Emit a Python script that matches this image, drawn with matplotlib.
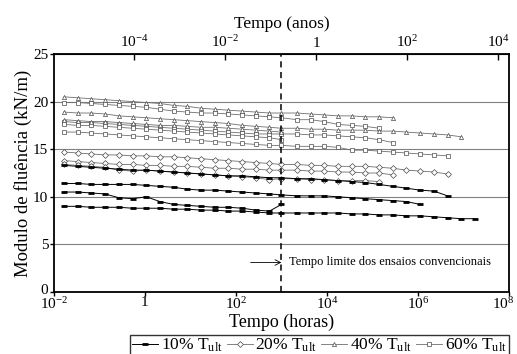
import matplotlib
matplotlib.use("Agg")
import matplotlib.pyplot as plt
from matplotlib.lines import Line2D
from matplotlib.ticker import FixedLocator, FixedFormatter
from matplotlib.transforms import ScaledTranslation

plt.rcParams['font.family'] = ['Liberation Serif', 'DejaVu Serif']
plt.rcParams['mathtext.fontset'] = 'custom'
plt.rcParams['mathtext.rm'] = 'Liberation Serif'
plt.rcParams['mathtext.it'] = 'Liberation Serif:italic'

# common time points (hours)
HOURS = [0.0167, 0.0333, 0.0667, 0.133, 0.267, 0.533, 1.07, 2.13, 4.27, 8.53,
         17.1, 34.1, 68.3, 137, 273, 546, 1000, 2185, 4369, 8738, 17476,
         34953, 69905, 139810, 279620, 559240, 1118481, 2236962, 4473924,
         8947849, 17895697]

# 10% T_ult
b0 = [13.3, 13.2, 13.1, 13.0, 12.9, 12.8, 12.8, 12.7, 12.6, 12.5, 12.4, 12.3, 12.2, 12.2, 12.1, 12.0,
      12.0, 11.9, 11.9, 11.8, 11.7, 11.6, 11.5, 11.3, 11.1, 10.9, 10.7, 10.6, 10.1]
b1 = [11.4, 11.4, 11.3, 11.3, 11.3, 11.3, 11.2, 11.1, 11.0, 10.8, 10.7, 10.7, 10.6, 10.5, 10.4, 10.3,
      10.2, 10.1, 10.1, 10.1, 10.0, 9.9, 9.8, 9.7, 9.6, 9.5, 9.2]
b2 = [10.5, 10.5, 10.4, 10.3, 9.9, 9.8, 10.0, 9.5, 9.2, 9.1, 9.0, 8.9, 8.9, 8.8, 8.6, 8.5, 9.2]
b3 = [9.0, 9.0, 8.9, 8.9, 8.9, 8.8, 8.8, 8.8, 8.7, 8.7, 8.6, 8.6, 8.5, 8.5, 8.4, 8.3,
      8.3, 8.3, 8.3, 8.3, 8.3, 8.2, 8.2, 8.1, 8.1, 8.0, 8.0, 7.9, 7.8, 7.7, 7.7]
# 20% T_ult
d1 = [14.7, 14.6, 14.5, 14.4, 14.4, 14.3, 14.3, 14.2, 14.2, 14.1, 14.0, 13.9, 13.8, 13.7, 13.6, 13.5,
      13.4, 13.4, 13.3, 13.3, 13.2, 13.2, 13.2, 13.1, 13.0, 12.8, 12.7, 12.6, 12.4]
d2 = [13.8, 13.7, 13.6, 13.5, 13.4, 13.4, 13.3, 13.3, 13.2, 13.2, 13.1, 13.0, 13.0, 12.9, 12.9, 12.8,
      12.8, 12.8, 12.7, 12.7, 12.6, 12.6, 12.5, 12.5, 12.3]
d3 = [13.4, 13.3, 13.2, 13.1, 12.8, 12.7, 12.8, 12.7, 12.6, 12.5, 12.4, 12.3, 12.2, 12.1, 12.0, 11.8,
      11.9, 11.9, 11.8, 11.8, 11.7, 11.7, 11.7, 11.6]
# 40% T_ult
t1 = [20.5, 20.4, 20.3, 20.2, 20.1, 20.0, 19.9, 19.8, 19.6, 19.5, 19.3, 19.2, 19.1, 19.0, 18.9, 18.8,
      18.8, 18.8, 18.7, 18.6, 18.5, 18.5, 18.4, 18.4, 18.3]
t2 = [18.9, 18.8, 18.8, 18.7, 18.5, 18.4, 18.3, 18.2, 18.1, 18.0, 17.9, 17.8, 17.7, 17.5, 17.4, 17.3,
      17.2, 17.2, 17.1, 17.1, 17.0, 17.0, 17.0, 16.9, 16.9, 16.8, 16.7, 16.6, 16.5, 16.3]
t3 = [18.1, 18.0, 17.9, 17.9, 17.8, 17.7, 17.6, 17.5, 17.5, 17.4, 17.3, 17.3, 17.2, 17.1, 17.0, 16.9, 16.8]
# 60% T_ult
s1 = [19.9, 19.9, 19.8, 19.7, 19.6, 19.5, 19.4, 19.2, 19.0, 18.9, 18.8, 18.8, 18.7, 18.6, 18.5, 18.4,
      18.3, 18.1, 18.1, 17.9, 17.6, 17.5, 17.4, 17.2]
s2 = [17.9, 17.8, 17.8, 17.7, 17.6, 17.5, 17.4, 17.3, 17.2, 17.1, 17.0, 16.9, 16.8, 16.7, 16.6, 16.6,
      16.6, 16.6, 16.5, 16.5, 16.4, 16.3, 16.2, 16.0, 15.7]
s3 = [16.8, 16.8, 16.7, 16.6, 16.5, 16.4, 16.3, 16.2, 16.1, 16.0, 15.9, 15.8, 15.7, 15.6, 15.5, 15.4,
      15.4, 15.3, 15.3, 15.3, 15.2, 14.9, 14.9, 14.8, 14.7, 14.6, 14.5, 14.4, 14.3]
s4 = [17.6, 17.5, 17.5, 17.4, 17.3, 17.2, 17.1, 17.0, 16.9, 16.8, 16.7, 16.6, 16.5, 16.4, 16.3, 16.2, 16.0]

labels = ['10% T$_{\\mathrm{ult}}$', '20% T$_{\\mathrm{ult}}$', '40% T$_{\\mathrm{ult}}$', '60% T$_{\\mathrm{ult}}$']
x_ticks = [1e-2, 1, 1e2, 1e4, 1e6, 1e8]
x_ticklabels = ['10$^{-2}$', '1', '10$^{2}$', '10$^{4}$', '10$^{6}$', '10$^{8}$']
top_ticks = [1e-4, 1e-2, 1, 1e2, 1e4]
top_ticklabels = ['10$^{-4}$', '10$^{-2}$', '1', '10$^{2}$', '10$^{4}$']
y_ticks = [0, 5, 10, 15, 20, 25]
limit_hours = 1000

fig = plt.figure(figsize=(5.17, 3.54), dpi=100)
ax = fig.add_axes([0.1044, 0.1751, 0.880, 0.6724])

gray = '#6e6e6e'
styles = {
    '10': dict(color='black', lw=0.7, marker='_', ms=4.5, mew=2.0, mec='black'),
    '20': dict(color=gray, lw=0.6, marker='D', ms=3.0, mfc='white', mec='#4a4a4a', mew=0.5),
    '40': dict(color=gray, lw=0.6, marker='^', ms=3.0, mfc='white', mec='#4a4a4a', mew=0.5),
    '60': dict(color=gray, lw=0.6, marker='s', ms=3.2, mfc='white', mec='#4a4a4a', mew=0.5),
}
groups = [('60', [s1, s2, s3, s4]), ('40', [t1, t2, t3]), ('20', [d1, d2, d3]), ('10', [b0, b1, b2, b3])]
for key, series in groups:
    for vals in series:
        ax.plot(HOURS[:len(vals)], vals, **styles[key], zorder=3)

ax.set_xscale('log')
ax.set_xlim(1e-2, 1e8)
ax.set_ylim(0, 25)
ax.xaxis.set_major_locator(FixedLocator(x_ticks))
ax.xaxis.set_major_formatter(FixedFormatter(x_ticklabels))
ax.xaxis.set_minor_locator(FixedLocator([]))
ax.set_yticks(y_ticks)
for v in [5, 10, 15, 20]:
    ax.axhline(v, color='#808080', lw=0.8, zorder=1)
for sp in ax.spines.values():
    sp.set_linewidth(1.3)
ax.tick_params(axis='both', direction='out', length=3, width=1, labelsize=11, pad=1)
ax.tick_params(axis='x', pad=0)
ax.set_xlabel('Tempo (horas)', fontsize=13, labelpad=1)
ax.set_ylabel('Modulo de fluência (kN/m)', fontsize=13.5, labelpad=1)

# nudge the last bottom tick label so it stays inside the picture
lab8 = ax.get_xticklabels()[-1]
lab8.set_transform(lab8.get_transform() + ScaledTranslation(-6 / 100, 0, fig.dpi_scale_trans))
# lift the "0" label a little so it clears the first x label
lab0 = ax.get_yticklabels()[0]
lab0.set_transform(lab0.get_transform() + ScaledTranslation(0, 3 / 100, fig.dpi_scale_trans))

ax.axvline(limit_hours, color='black', lw=1.1, ls=(0, (4, 3)), zorder=4)
ax.annotate('', xy=(limit_hours, 3.1), xytext=(210, 3.1),
            arrowprops=dict(arrowstyle='->', lw=0.6, color='black', shrinkA=0, shrinkB=0))
ax.text(1500, 3.1, 'Tempo limite dos ensaios convencionais', fontsize=9, va='center', ha='left')

YEAR = 5754.0
sec = ax.secondary_xaxis('top', functions=(lambda h: h / YEAR, lambda y: y * YEAR))
sec.xaxis.set_major_locator(FixedLocator(top_ticks))
sec.xaxis.set_major_formatter(FixedFormatter(top_ticklabels))
sec.xaxis.set_minor_locator(FixedLocator([]))
sec.tick_params(direction='in', length=4, width=1, labelsize=11, pad=3)
sec.set_xlabel('Tempo (anos)', fontsize=12.5, labelpad=4)

handles = [Line2D([], [], **styles[k]) for k in ['10', '20', '40', '60']]
leg = fig.legend(handles, labels, loc='lower right', bbox_to_anchor=(0.987, -0.012), ncol=4,
                 fontsize=12.5, frameon=True, fancybox=False, edgecolor='black',
                 handlelength=1.5, handletextpad=0.15, columnspacing=0.25, borderpad=0.12,
                 borderaxespad=0.1)
leg.get_frame().set_linewidth(1.0)

fig.savefig('out.png', dpi=100)
